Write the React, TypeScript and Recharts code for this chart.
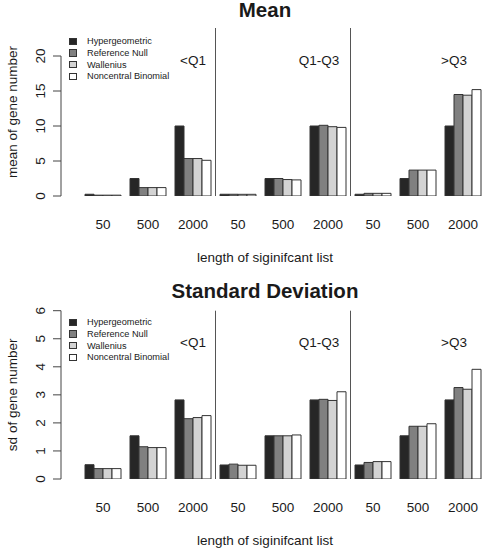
import React from 'react';
import { BarChart, Bar, XAxis, YAxis, ReferenceLine, ReferenceDot, Legend, Label } from 'recharts';

// ---- data ----
const lengths = ['50', '500', '2000', '50', '500', '2000', '50', '500', '2000'];
const groupLabels = ['<Q1', 'Q1-Q3', '>Q3'];
const groupLabelPos = [2.0, 4.8, 7.8];
const dividerPos = [2.5, 5.5];
const seriesKeys = ['hyper', 'refNull', 'wallenius', 'ncb'];
const seriesNames = ['Hypergeometric', 'Reference Null', 'Wallenius', 'Noncentral Binomial'];
const seriesColors = ['#262626', '#808080', '#d3d3d3', '#ffffff'];

const meanHyper = [0.25, 2.5, 10, 0.25, 2.5, 10, 0.25, 2.5, 10];
const meanRefNull = [0.12, 1.2, 5.35, 0.25, 2.5, 10.1, 0.38, 3.7, 14.5];
const meanWallenius = [0.12, 1.2, 5.35, 0.24, 2.35, 9.9, 0.38, 3.7, 14.4];
const meanNcb = [0.12, 1.2, 5.1, 0.24, 2.3, 9.8, 0.38, 3.7, 15.2];

const sdHyper = [0.51, 1.54, 2.82, 0.5, 1.54, 2.82, 0.5, 1.54, 2.82];
const sdRefNull = [0.37, 1.15, 2.15, 0.53, 1.54, 2.84, 0.59, 1.88, 3.26];
const sdWallenius = [0.37, 1.12, 2.19, 0.49, 1.54, 2.8, 0.62, 1.88, 3.2];
const sdNcb = [0.37, 1.12, 2.26, 0.49, 1.57, 3.11, 0.62, 1.97, 3.91];

const meanTicks = [0, 5, 10, 15, 20];
const sdTicks = [0, 1, 2, 3, 4, 5, 6];

const build = (a: number[], b: number[], c: number[], d: number[]) =>
  lengths.map((len, i) => ({ len, pos: i, hyper: a[i], refNull: b[i], wallenius: c[i], ncb: d[i] }));

const meanData = build(meanHyper, meanRefNull, meanWallenius, meanNcb);
const sdData = build(sdHyper, sdRefNull, sdWallenius, sdNcb);

// ---- style ----
const FONT = '"Liberation Sans", Arial, Helvetica, sans-serif';
const TEXT = '#1a1a1a';
const AXIS = '#444';
const CAT_PAD = { left: 19.5, right: 0.5 };
const NUM_PAD = { left: 42, right: 23 };
const AXIS_X = -42 / 45;

const XTick = (props: any) => (
  <text x={props.x} y={props.y + 33} textAnchor="middle" fontSize={13.5} fill={TEXT} fontFamily={FONT}>
    {props.payload.value}
  </text>
);

const LegendBox = () => (
  <div style={{ fontFamily: FONT, fontSize: 9.2, color: TEXT }}>
    {seriesNames.map((n, i) => (
      <div key={n} style={{ display: 'flex', alignItems: 'center', height: 11.6, whiteSpace: 'nowrap' }}>
        <span
          style={{
            display: 'inline-block',
            width: 7.5,
            height: 7.5,
            background: seriesColors[i],
            border: '1px solid #333',
            boxSizing: 'border-box',
            marginRight: 10.5,
          }}
        />
        <span>{n}</span>
      </div>
    ))}
  </div>
);

type PanelProps = {
  top: number;
  height: number;
  marginTop: number;
  data: any[];
  yMax: number;
  ticks: number[];
  yLabel: string;
  title: string;
  titleBaseline: number;
  groupY: number;
  legendTop: number;
};

function Panel(p: PanelProps) {
  const yLabelContent = (lp: any) => {
    const vb = lp.viewBox || {};
    const x = (vb.x || 0) + 16.5;
    const y = (vb.y || 0) + (vb.height || 0) / 2;
    return (
      <g transform={`translate(${x}, ${y}) rotate(-90)`}>
        <text x={0} y={0} textAnchor="middle" fontSize={13.5} fill={TEXT} fontFamily={FONT}>
          {p.yLabel}
        </text>
      </g>
    );
  };
  const xLabelContent = (lp: any) => {
    const vb = lp.viewBox || {};
    return (
      <text x={265} y={(vb.y || 0) + 65.5} textAnchor="middle" fontSize={13.5} fill={TEXT} fontFamily={FONT}>
        length of siginifcant list
      </text>
    );
  };
  const lastTick = p.ticks[p.ticks.length - 1];
  return (
    <div style={{ position: 'absolute', left: 0, top: p.top, width: 482, height: p.height, overflow: 'hidden' }}>
      <BarChart
        width={486}
        height={p.height}
        data={p.data}
        margin={{ top: p.marginTop, right: 0, left: 0, bottom: 0 }}
        barCategoryGap={4.5}
        barGap={0}
      >
        <XAxis
          xAxisId="cat"
          dataKey="len"
          height={70}
          padding={CAT_PAD}
          axisLine={false}
          tickLine={false}
          tickSize={0}
          tickMargin={0}
          interval={0}
          tick={XTick}
          label={<Label content={xLabelContent} />}
        />
        <XAxis xAxisId="num" dataKey="pos" type="number" domain={[0, 8]} allowDataOverflow hide padding={NUM_PAD} />
        <YAxis
          domain={[0, p.yMax]}
          ticks={p.ticks}
          allowDataOverflow
          width={61}
          axisLine={false}
          tickLine={{ stroke: AXIS, strokeWidth: 1 }}
          tickSize={8}
          tickMargin={12.6}
          interval={0}
          angle={-90}
          tick={{ textAnchor: 'middle', fontSize: 13.5, fill: TEXT, fontFamily: FONT }}
          label={<Label content={yLabelContent} />}
        />
        {seriesKeys.map((k, i) => (
          <Bar
            key={k}
            xAxisId="cat"
            dataKey={k}
            name={seriesNames[i]}
            fill={seriesColors[i]}
            stroke="#333"
            strokeWidth={1}
            isAnimationActive={false}
          />
        ))}
        <ReferenceLine
          xAxisId="num"
          segment={[{ x: AXIS_X, y: 0 }, { x: AXIS_X, y: lastTick }]}
          ifOverflow="visible"
          stroke={AXIS}
          strokeWidth={1}
        />
        {dividerPos.map((d) => (
          <ReferenceLine
            key={d}
            xAxisId="num"
            segment={[{ x: d, y: 0 }, { x: d, y: p.yMax }]}
            ifOverflow="visible"
            stroke="#555"
            strokeWidth={1}
          />
        ))}
        {groupLabels.map((g, i) => (
          <ReferenceDot
            key={g}
            xAxisId="num"
            x={groupLabelPos[i]}
            y={p.groupY}
            r={0}
            fill="none"
            stroke="none"
            ifOverflow="visible"
            label={{ value: g, position: 'center', fontSize: 13.5, fill: TEXT, fontFamily: FONT }}
          />
        ))}
        <Legend
          layout="horizontal"
          verticalAlign="middle"
          align="center"
          content={LegendBox}
          wrapperStyle={{ left: 69, top: p.legendTop, width: 'auto', height: 'auto' }}
        />
      </BarChart>
      <svg width={482} height={30} style={{ position: 'absolute', left: 0, top: 0, pointerEvents: 'none' }}>
        <text x={265} y={p.titleBaseline} textAnchor="middle" fontWeight="bold" fontSize={20.5} fill={TEXT} fontFamily={FONT}>
          {p.title}
        </text>
      </svg>
    </div>
  );
}

export default function App() {
  return (
    <div style={{ position: 'absolute', left: 0, top: 0, width: 482, height: 549, background: '#fff', fontFamily: FONT, overflow: 'hidden' }}>
      <Panel
        top={0}
        height={266}
        marginTop={28}
        data={meanData}
        yMax={24}
        ticks={meanTicks}
        yLabel="mean of gene number"
        title="Mean"
        titleBaseline={17}
        groupY={19.45}
        legendTop={35.7}
      />
      <Panel
        top={280}
        height={269}
        marginTop={30.7}
        data={sdData}
        yMax={6}
        ticks={sdTicks}
        yLabel="sd of gene number"
        title="Standard Deviation"
        titleBaseline={18.3}
        groupY={4.88}
        legendTop={36.7}
      />
    </div>
  );
}
